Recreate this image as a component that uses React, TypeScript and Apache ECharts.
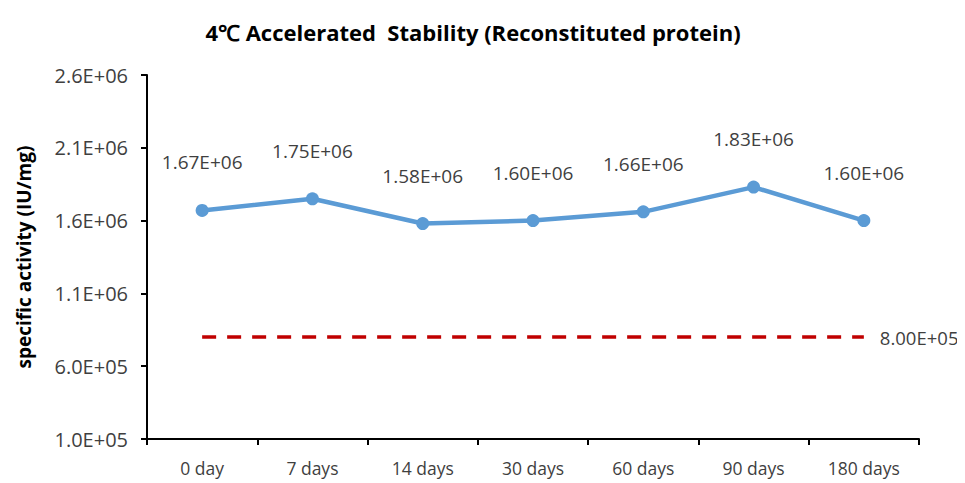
import React, { useEffect, useRef } from "react";
import * as echarts from "echarts";

const categories = ["0 day", "7 days", "14 days", "30 days", "60 days", "90 days", "180 days"];
const activity = [1670000, 1750000, 1580000, 1600000, 1660000, 1830000, 1600000];
const threshold = [800000, 800000, 800000, 800000, 800000, 800000, 800000];
const yMin = 100000;
const yMax = 2600000;
const yStep = 500000;

const sci = (v: number, d: number) => {
  const s = v.toExponential(d);
  const [m, e] = s.split("e");
  const n = parseInt(e, 10);
  const sign = n < 0 ? "-" : "+";
  const abs = Math.abs(n).toString().padStart(2, "0");
  return `${m}E${sign}${abs}`;
};

const FONT = "'Open Sans', 'Liberation Sans', sans-serif";
const LABEL_COLOR = "#3f3f3f";

export default function App() {
  const ref = useRef<HTMLDivElement>(null);
  useEffect(() => {
    if (!ref.current) return;
    const chart = echarts.init(ref.current, null, { renderer: "svg" });
    chart.setOption({
      animation: false,
      backgroundColor: "#ffffff",
      title: {
        text: "4\u2103 Accelerated  Stability (Reconstituted protein)",
        left: 460,
        textAlign: "center",
        top: 8,
        textStyle: { fontFamily: FONT, fontSize: 22, fontWeight: "bold", color: "#000" },
      },
      grid: {
        left: 139,
        right: 54,
        top: 67,
        bottom: 52,
        containLabel: false,
        outerBoundsMode: "none",
      },
      xAxis: {
        type: "category",
        data: categories,
        boundaryGap: true,
        axisLine: { lineStyle: { color: "#000", width: 2 } },
        axisTick: { show: true, length: 6, interval: 0, lineStyle: { color: "#000", width: 2 } },
        axisLabel: { fontFamily: FONT, fontSize: 17.5, color: LABEL_COLOR, margin: 20, interval: 0 },
      },
      yAxis: {
        type: "value",
        min: yMin,
        max: yMax,
        interval: yStep,
        name: "specific activity (IU/mg)",
        nameLocation: "middle",
        nameGap: 114,
        nameTextStyle: { fontFamily: FONT, fontSize: 19, fontWeight: "bold", color: "#000" },
        axisLine: { show: true, lineStyle: { color: "#000", width: 2 } },
        axisTick: { show: true, length: 6, lineStyle: { color: "#000", width: 2 } },
        splitLine: { show: false },
        axisLabel: {
          fontFamily: FONT,
          fontSize: 20,
          color: LABEL_COLOR,
          margin: 19,
          formatter: (v: number) => sci(v, 1),
        },
      },
      series: [
        {
          type: "line",
          data: activity,
          symbol: "circle",
          symbolSize: 13,
          lineStyle: { color: "#5B9BD5", width: 4.5 },
          itemStyle: { color: "#5B9BD5" },
          label: {
            show: true,
            position: "top",
            distance: 32,
            fontFamily: FONT,
            fontSize: 19,
            color: LABEL_COLOR,
            formatter: (p: any) => sci(p.value, 2),
          },
        },
        {
          type: "line",
          data: threshold,
          symbol: "none",
          lineStyle: { color: "#C00000", width: 3.5, type: [14, 11] },
          endLabel: {
            show: true,
            distance: 16,
            fontFamily: FONT,
            fontSize: 18.5,
            color: LABEL_COLOR,
            formatter: (p: any) => sci(p.value, 2),
          },
        },
      ],
    });
    return () => chart.dispose();
  }, []);
  return <div ref={ref} style={{ width: 965, height: 483 }} />;
}
